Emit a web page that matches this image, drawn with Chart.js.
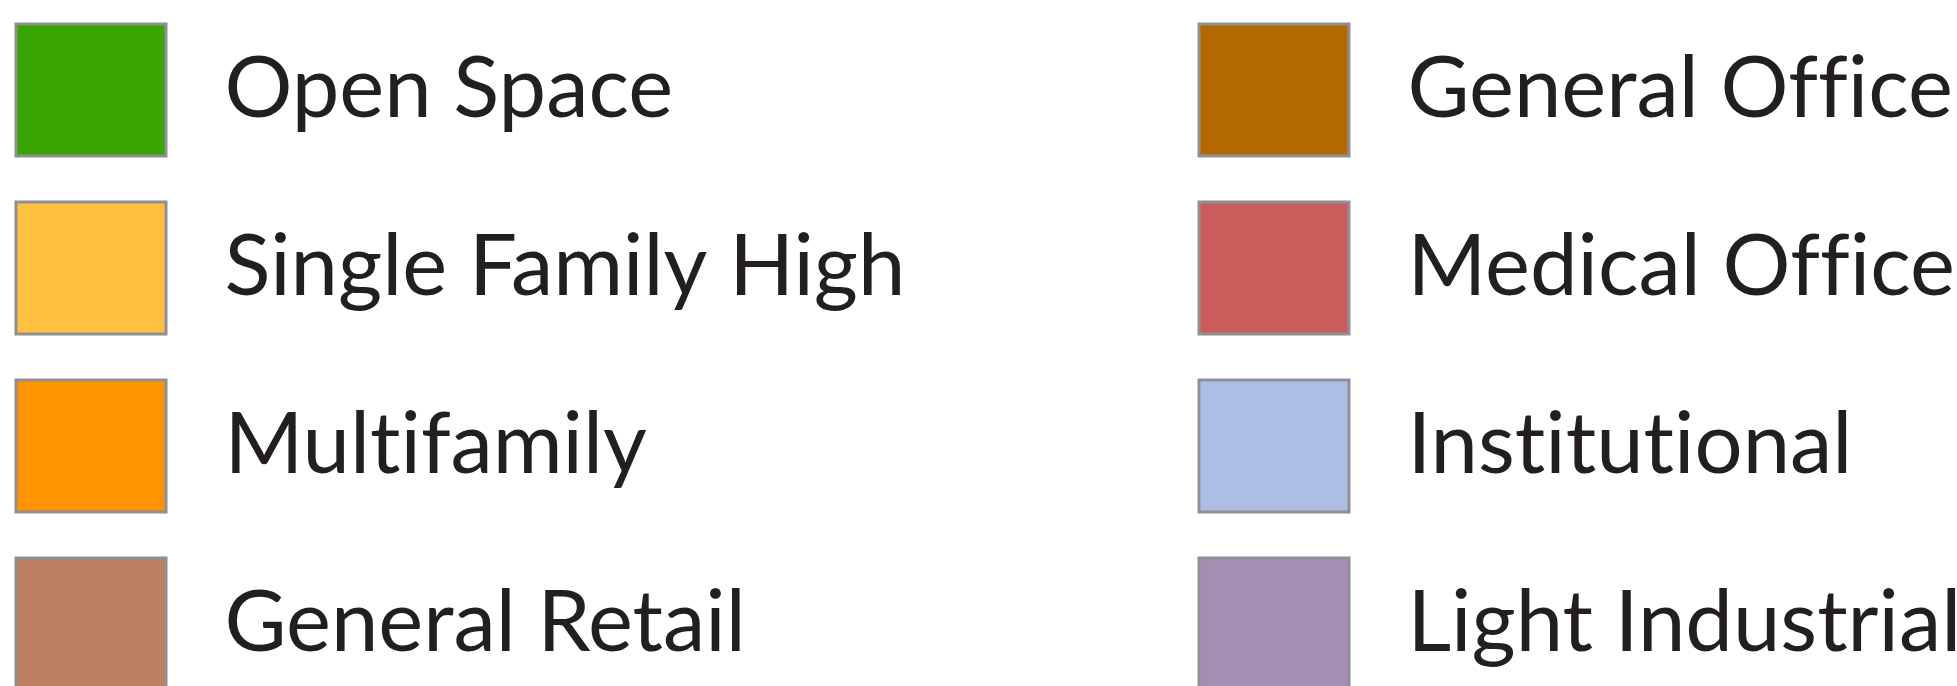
<!DOCTYPE html>
<html>
<head>
<meta charset="utf-8">
<script src="https://cdn.jsdelivr.net/npm/chart.js@4"></script>
<style>
  html, body { margin: 0; padding: 0; width: 1957px; height: 686px; overflow: hidden; background: #ffffff; }
  body { position: relative; }
  .wrap { position: absolute; }
  #wrapLeft { left: -30px; top: -22px; width: 1150px; height: 780px; }
  #wrapRight { left: 1153px; top: -22px; width: 830px; height: 780px; }
</style>
</head>
<body>
<div class="wrap" id="wrapLeft"><canvas id="legendLeft"></canvas></div>
<div class="wrap" id="wrapRight"><canvas id="legendRight"></canvas></div>
<script>
// Legend categories (two columns) and their colours
const categoriesLeft = ['Open Space', 'Single Family High', 'Multifamily', 'General Retail'];
const categoriesRight = ['General Office', 'Medical Office', 'Institutional', 'Light Industrial'];
const coloursLeft = ['#3ba500', '#ffbf40', '#ff9400', '#bd8060'];
const coloursRight = ['#b36800', '#cb5c5c', '#adbee6', '#a48fb2'];
const seriesValues = [];   // the reference shows only the legend: no data marks

const BORDER = '#8f9096';
const TEXT = '#231f20';

function makeLegendChart(canvasId, names, colours) {
  const datasets = names.map((name, i) => ({
    label: name,
    data: seriesValues,
    backgroundColor: colours[i],
    borderColor: BORDER,
    borderWidth: 3
  }));
  return new Chart(document.getElementById(canvasId), {
    type: 'bar',
    data: { labels: [], datasets },
    options: {
      responsive: true,
      maintainAspectRatio: false,
      animation: false,
      events: [],
      layout: { padding: 0 },
      scales: { x: { display: false }, y: { display: false } },
      plugins: {
        tooltip: { enabled: false },
        title: { display: false },
        legend: {
          display: true,
          position: 'top',
          align: 'start',
          maxHeight: 900,
          labels: {
            boxWidth: 150,
            boxHeight: 132,
            padding: 46,
            color: TEXT,
            font: { family: 'Lato', size: 85, weight: 'normal' },
            generateLabels(chart) {
              const items = Chart.defaults.plugins.legend.labels.generateLabels(chart);
              // thin + hair space for the label gap; ZWNJ keeps "fi"/"ti" from forming ligatures
              items.forEach(it => { it.text = '\u2009\u200A' + it.text.replace(/([ft])(?=[a-z])/g, '$1\u200C'); });
              return items;
            }
          }
        }
      }
    }
  });
}

makeLegendChart('legendLeft', categoriesLeft, coloursLeft);
makeLegendChart('legendRight', categoriesRight, coloursRight);
</script>
</body>
</html>
